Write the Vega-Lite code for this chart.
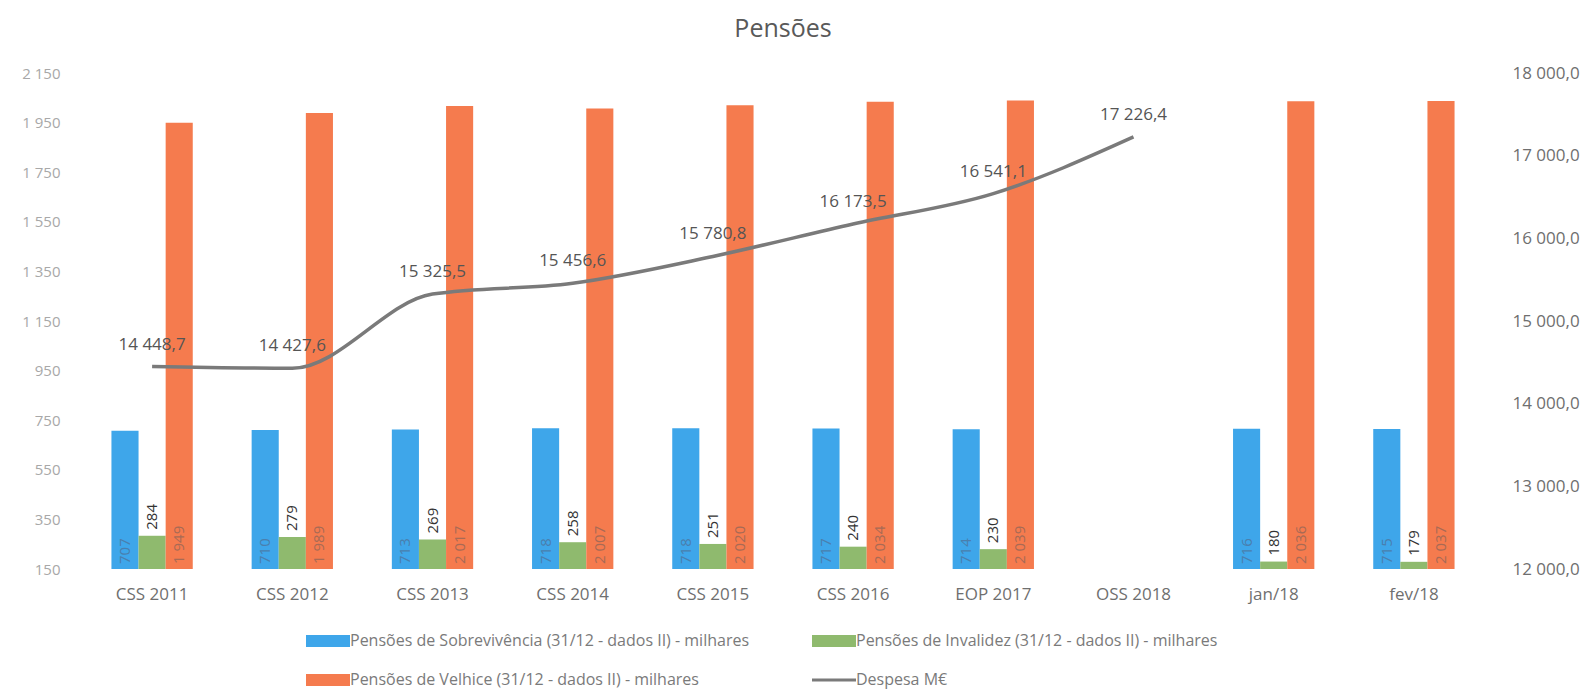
{
  "$schema": "https://vega.github.io/schema/vega-lite/v6.json",
  "width": 1402,
  "height": 496,
  "autosize": {"type": "none"},
  "padding": {"left": 82, "top": 73, "right": 108, "bottom": 120},
  "background": "white",
  "config": {
    "view": {"stroke": null},
    "font": "Open Sans",
    "locale": {"number": {"decimal": ",", "thousands": " ", "grouping": [3], "currency": ["", " €"]}}
  },
  "title": {"text": "Pensões", "fontSize": 25, "font": "Open Sans", "fontWeight": "normal", "color": "#595959", "offset": 22, "anchor": "middle"},
  "datasets": {
    "bars": [
      {"cat": "CSS 2011", "series": "Pensões de Sobrevivência (31/12 - dados II) - milhares", "value": 707},
      {"cat": "CSS 2011", "series": "Pensões de Invalidez (31/12 - dados II) - milhares", "value": 284},
      {"cat": "CSS 2011", "series": "Pensões de Velhice (31/12 - dados II) - milhares", "value": 1949},
      {"cat": "CSS 2012", "series": "Pensões de Sobrevivência (31/12 - dados II) - milhares", "value": 710},
      {"cat": "CSS 2012", "series": "Pensões de Invalidez (31/12 - dados II) - milhares", "value": 279},
      {"cat": "CSS 2012", "series": "Pensões de Velhice (31/12 - dados II) - milhares", "value": 1989},
      {"cat": "CSS 2013", "series": "Pensões de Sobrevivência (31/12 - dados II) - milhares", "value": 713},
      {"cat": "CSS 2013", "series": "Pensões de Invalidez (31/12 - dados II) - milhares", "value": 269},
      {"cat": "CSS 2013", "series": "Pensões de Velhice (31/12 - dados II) - milhares", "value": 2017},
      {"cat": "CSS 2014", "series": "Pensões de Sobrevivência (31/12 - dados II) - milhares", "value": 718},
      {"cat": "CSS 2014", "series": "Pensões de Invalidez (31/12 - dados II) - milhares", "value": 258},
      {"cat": "CSS 2014", "series": "Pensões de Velhice (31/12 - dados II) - milhares", "value": 2007},
      {"cat": "CSS 2015", "series": "Pensões de Sobrevivência (31/12 - dados II) - milhares", "value": 718},
      {"cat": "CSS 2015", "series": "Pensões de Invalidez (31/12 - dados II) - milhares", "value": 251},
      {"cat": "CSS 2015", "series": "Pensões de Velhice (31/12 - dados II) - milhares", "value": 2020},
      {"cat": "CSS 2016", "series": "Pensões de Sobrevivência (31/12 - dados II) - milhares", "value": 717},
      {"cat": "CSS 2016", "series": "Pensões de Invalidez (31/12 - dados II) - milhares", "value": 240},
      {"cat": "CSS 2016", "series": "Pensões de Velhice (31/12 - dados II) - milhares", "value": 2034},
      {"cat": "EOP 2017", "series": "Pensões de Sobrevivência (31/12 - dados II) - milhares", "value": 714},
      {"cat": "EOP 2017", "series": "Pensões de Invalidez (31/12 - dados II) - milhares", "value": 230},
      {"cat": "EOP 2017", "series": "Pensões de Velhice (31/12 - dados II) - milhares", "value": 2039},
      {"cat": "jan/18", "series": "Pensões de Sobrevivência (31/12 - dados II) - milhares", "value": 716},
      {"cat": "jan/18", "series": "Pensões de Invalidez (31/12 - dados II) - milhares", "value": 180},
      {"cat": "jan/18", "series": "Pensões de Velhice (31/12 - dados II) - milhares", "value": 2036},
      {"cat": "fev/18", "series": "Pensões de Sobrevivência (31/12 - dados II) - milhares", "value": 715},
      {"cat": "fev/18", "series": "Pensões de Invalidez (31/12 - dados II) - milhares", "value": 179},
      {"cat": "fev/18", "series": "Pensões de Velhice (31/12 - dados II) - milhares", "value": 2037}
    ],
    "line": [
      {"cat": "CSS 2011", "despesa": 14448.7},
      {"cat": "CSS 2012", "despesa": 14427.6},
      {"cat": "CSS 2013", "despesa": 15325.5},
      {"cat": "CSS 2014", "despesa": 15456.6},
      {"cat": "CSS 2015", "despesa": 15780.8},
      {"cat": "CSS 2016", "despesa": 16173.5},
      {"cat": "EOP 2017", "despesa": 16541.1},
      {"cat": "OSS 2018", "despesa": 17226.4}
    ]
  },
  "layer": [
    {
      "data": {"name": "bars"},
      "encoding": {
        "x": {
          "field": "cat", "type": "nominal", "sort": null, "title": null,
          "scale": {"domain": ["CSS 2011", "CSS 2012", "CSS 2013", "CSS 2014", "CSS 2015", "CSS 2016", "EOP 2017", "OSS 2018", "jan/18", "fev/18"], "paddingInner": 0.42, "paddingOuter": 0.21},
          "axis": {"domain": false, "ticks": false, "grid": false, "labelAngle": 0, "labelColor": "#6f6f6f", "labelFontSize": 17, "labelPadding": 17}
        },
        "xOffset": {
          "field": "series", "type": "nominal",
          "scale": {"domain": ["Pensões de Sobrevivência (31/12 - dados II) - milhares", "Pensões de Invalidez (31/12 - dados II) - milhares", "Pensões de Velhice (31/12 - dados II) - milhares"], "paddingInner": 0, "paddingOuter": 0}
        }
      },
      "layer": [
        {
          "mark": {"type": "bar"},
          "encoding": {
            "y": {
              "field": "value", "type": "quantitative", "title": null,
              "scale": {"domain": [150, 2150], "zero": false, "nice": false},
              "axis": {"values": [150, 350, 550, 750, 950, 1150, 1350, 1550, 1750, 1950, 2150], "format": ",.0f", "domain": false, "ticks": false, "grid": false, "labelColor": "#a8a8a8", "labelFontSize": 15, "labelPadding": 22}
            },
            "y2": {"datum": 150},
            "color": {
              "field": "series", "type": "nominal",
              "scale": {"domain": ["Pensões de Sobrevivência (31/12 - dados II) - milhares", "Pensões de Invalidez (31/12 - dados II) - milhares", "Pensões de Velhice (31/12 - dados II) - milhares", "Despesa M€"], "range": ["#3ea6ea", "#8fba6e", "#f57b4e", "#7a7a7a"]},
              "legend": {
                "orient": "none", "legendX": 238, "legendY": 560, "columns": 2, "direction": "horizontal", "title": null,
                "labelFontSize": 16, "labelColor": "#7a7a7a", "labelLimit": 700, "labelOffset": 14,
                "symbolSize": 1936, "symbolType": "M-1,-0.27H1V0.27H-1Z", "columnPadding": 56, "rowPadding": 23,
                "encode": {"symbols": {"update": {
                  "shape": {"signal": "datum.value === 'Despesa M€' ? 'stroke' : 'M-1,-0.27H1V0.27H-1Z'"},
                  "stroke": {"signal": "datum.value === 'Despesa M€' ? '#7a7a7a' : 'transparent'"},
                  "strokeWidth": {"signal": "datum.value === 'Despesa M€' ? 3 : 0"}
                }}}
              }
            }
          }
        },
        {
          "transform": [{"filter": "datum.series === 'Pensões de Sobrevivência (31/12 - dados II) - milhares'"}],
          "mark": {"type": "text", "angle": 270, "align": "left", "baseline": "middle", "dx": 5, "fontSize": 15, "color": "#4a7fae"},
          "encoding": {
            "y": {"datum": 150, "type": "quantitative"},
            "text": {"field": "value", "type": "quantitative", "format": ",.0f"}
          }
        },
        {
          "transform": [{"filter": "datum.series === 'Pensões de Invalidez (31/12 - dados II) - milhares'"}],
          "mark": {"type": "text", "angle": 270, "align": "left", "baseline": "middle", "dx": 6, "fontSize": 15, "color": "#333333"},
          "encoding": {
            "y": {"field": "value", "type": "quantitative"},
            "text": {"field": "value", "type": "quantitative", "format": ",.0f"}
          }
        },
        {
          "transform": [{"filter": "datum.series === 'Pensões de Velhice (31/12 - dados II) - milhares'"}],
          "mark": {"type": "text", "angle": 270, "align": "left", "baseline": "middle", "dx": 5, "fontSize": 15, "color": "#a86a55"},
          "encoding": {
            "y": {"datum": 150, "type": "quantitative"},
            "text": {"field": "value", "type": "quantitative", "format": ",.0f"}
          }
        }
      ]
    },
    {
      "data": {"name": "line"},
      "encoding": {
        "x": {"field": "cat", "type": "nominal", "sort": null},
        "y": {
          "field": "despesa", "type": "quantitative", "title": null,
          "scale": {"domain": [12000, 18000], "zero": false, "nice": false},
          "axis": {"orient": "right", "values": [12000, 13000, 14000, 15000, 16000, 17000, 18000], "format": ",.1f", "domain": false, "ticks": false, "grid": false, "labelColor": "#6f6f6f", "labelFontSize": 17, "labelPadding": 28}
        }
      },
      "layer": [
        {"mark": {"type": "line", "interpolate": "monotone", "color": "#7a7a7a", "strokeWidth": 3.5}},
        {
          "mark": {"type": "text", "dy": -22, "fontSize": 17, "color": "#555555"},
          "encoding": {"text": {"field": "despesa", "type": "quantitative", "format": ",.1f"}}
        }
      ]
    }
  ],
  "resolve": {"scale": {"y": "independent"}}
}
